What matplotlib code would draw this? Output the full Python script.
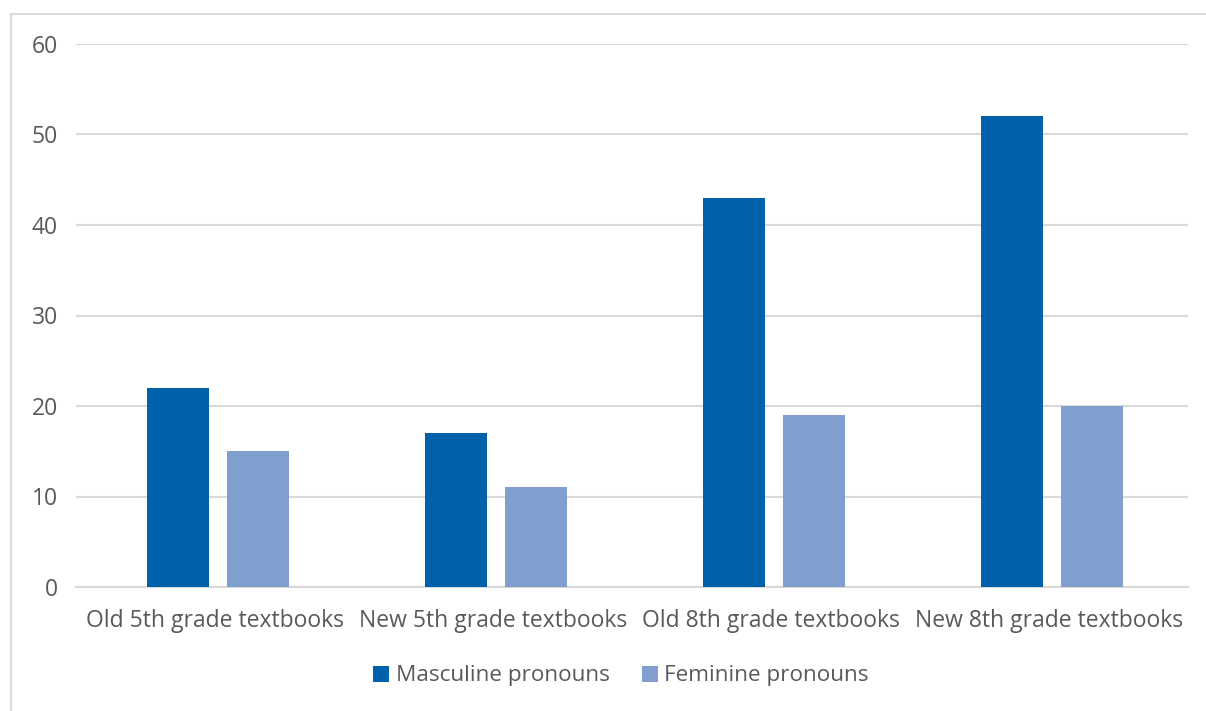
import matplotlib
matplotlib.use("Agg")
import matplotlib.pyplot as plt
from matplotlib.patches import Rectangle
import numpy as np

categories = ["Old 5th grade textbooks", "New 5th grade textbooks",
              "Old 8th grade textbooks", "New 8th grade textbooks"]
masculine = [22, 17, 43, 52]
feminine = [15, 11, 19, 20]
series_names = ["Masculine pronouns", "Feminine pronouns"]
yticks = [0, 10, 20, 30, 40, 50, 60]

plt.rcParams['font.family'] = ['Open Sans', 'DejaVu Sans']
text_color = "#595959"
masc_color = "#0061AB"
fem_color = "#809FCF"

fig = plt.figure(figsize=(12.06, 7.11), dpi=100)
ax = fig.add_axes([76 / 1206, 1 - 587 / 711, (1188 - 76) / 1206, (587 - 44) / 711])

x = np.arange(len(categories))
w = 0.223
ax.bar(x - 0.132, masculine, width=w, color=masc_color, label=series_names[0], zorder=3)
ax.bar(x + 0.154, feminine, width=w, color=fem_color, label=series_names[1], zorder=3)

ax.set_xlim(-0.5, len(categories) - 0.5)
ax.set_ylim(0, 60)
ax.set_yticks(yticks)
ax.set_xticks(x)
ax.set_xticklabels(categories)
ax.yaxis.grid(True, color="#d9d9d9", linewidth=1.5, zorder=0)
ax.set_axisbelow(True)
for s in ["top", "right", "left"]:
    ax.spines[s].set_visible(False)
ax.spines["bottom"].set_color("#d9d9d9")
ax.spines["bottom"].set_linewidth(1.5)
ax.tick_params(axis="both", length=0, labelsize=16.5, labelcolor=text_color)
ax.tick_params(axis="y", pad=13)
ax.tick_params(axis="x", pad=16)

leg = fig.legend(loc="center", bbox_to_anchor=(621 / 1206, 1 - 676 / 711), ncol=2,
                 frameon=False, fontsize=16.2, handlelength=0.7, handleheight=0.7,
                 handletextpad=0.3, columnspacing=1.45, labelcolor=text_color)

fig.add_artist(Rectangle((11 / 1206, -0.02), 1.05, 1 - 14 / 711 + 0.02,
                         transform=fig.transFigure, fill=False,
                         edgecolor="#d9d9d9", linewidth=1.5, clip_on=False))

fig.savefig("out.png", dpi=100)
